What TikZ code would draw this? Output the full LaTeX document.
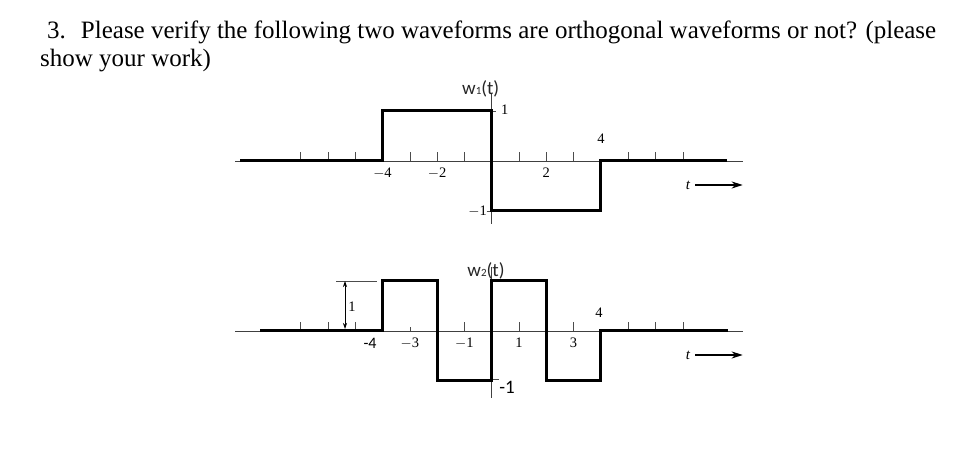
\documentclass[tikz,border=0pt]{standalone}
\usepackage{fontspec}
\setmainfont{Liberation Serif}
\newfontfamily\labelfont{Carlito}
\usetikzlibrary{arrows.meta}
\begin{document}
\begin{tikzpicture}[x=1pt, y=1pt,
	wave/.style={line width=3pt, draw=black, line join=miter},
	axis/.style={line width=0.8pt, draw=black!75},
	tick/.style={line width=0.6pt, draw=black!70},
	num/.style={font=\fontsize{14.5}{14.5}\selectfont, inner sep=0pt},
	snum/.style={font=\labelfont\fontsize{16}{16}\selectfont, inner sep=0pt},
	wlab/.style={font=\labelfont\fontsize{19}{19}\selectfont, text=black!85, inner sep=0pt},
	tarrow/.style={line width=1.3pt, -{Stealth[length=11pt, width=7pt]}}]
	\useasboundingbox (0,0) rectangle (969,462);

	\pgfmathsetmacro{\dt}{27.3}
	\pgfmathsetmacro{\h}{50}

	\coordinate[](o1) at (491.7,301);
	\coordinate[](o2) at (491.7,131);

	% Question
	\node[anchor=base west, inner sep=0pt, font=\fontsize{25}{29}\selectfont]
	(q1) at (47,423.5) {3.\hskip 15pt Please verify the following two waveforms are orthogonal waveforms or not? (please};
	\node[anchor=base west, inner sep=0pt, font=\fontsize{25}{29}\selectfont]
	(q2) at (40,395) {show your work)};

	% w1(t)
	\begin{scope}[shift={(o1)}]
	\draw[axis] (-256.7,0) -- (251.3,0);
	\draw[axis] (0,68) -- (0,-63);
	\foreach \x in {-7,-6,-5,-3,-2,-1,1,2,3,5,6,7}
	{
	\draw[tick] (\x*\dt,0) -- (\x*\dt,9);
	}
	\draw[tick] (0,\h) -- (4,\h);
	\draw[tick] (-5,-\h) -- (0,-\h);
	\draw[wave] (-251.7,0) -- (-4*\dt,0) -- (-4*\dt,\h) -- (0,\h)
	-- (0,-\h) -- (4*\dt,-\h) -- (4*\dt,0) -- (235.3,0);

	\node[num] (a1m4) at (-4*\dt,-12) {$-$4};
	\node[num] (a1m2) at (-2*\dt,-12) {$-$2};
	\node[num] (a1p2) at (2*\dt,-12) {2};
	\node[num] (a1p4) at (4*\dt,22) {4};
	\node[num] (a1hi) at (13,51) {1};
	\node[num] (a1lo) at (-14,-50) {$-$1};
	\node[wlab] (w1) at (-11,72) {w{\fontsize{11}{11}\selectfont 1}(t)};

	\node[num, font=\itshape\fontsize{15}{15}\selectfont] (t1) at (196.3,-24) {t};
	\coordinate (t1end) at (251,-24);
	\draw[tarrow] ([xshift=5pt]t1.east) -- (t1end);
	\end{scope}

	% w2(t)
	\begin{scope}[shift={(o2)}]
	\draw[axis] (-256.7,0) -- (251.3,0);
	\draw[axis] (0,64) -- (0,-67);
	\foreach \x in {-7,-6,-5,-1,1,3,5,6,7}
	{
	\draw[tick] (\x*\dt,0) -- (\x*\dt,9);
	}
	\draw[tick] (-3*\dt,0) -- (-3*\dt,4);
	\draw[tick] (0,-48) -- (7,-48);
	\draw[wave] (-231.7,0) -- (-4*\dt,0) -- (-4*\dt,\h) -- (-2*\dt,\h)
	-- (-2*\dt,-\h) -- (0,-\h) -- (0,\h) -- (2*\dt,\h) -- (2*\dt,-\h)
	-- (4*\dt,-\h) -- (4*\dt,0) -- (236.3,0);

	% Quota
	\coordinate (d1) at (-146.7,\h);
	\coordinate (d2) at (-146.7,2);
	\draw[tick] (-155.7,\h) -- (-114.7,\h);
	\draw[line width=0.7pt, {Stealth[length=6pt, width=4pt]}-{Stealth[length=6pt, width=4pt]}] (d1) -- (d2);
	\node[num] (dlab) at (-139.7,24) {1};

	\node[snum] (a2m4) at (-121.7,-12) {-4};
	\node[num] (a2m3) at (-3*\dt,-12) {$-$3};
	\node[num] (a2m1) at (-1*\dt,-12) {$-$1};
	\node[num] (a2p1) at (1*\dt,-12) {1};
	\node[num] (a2p3) at (3*\dt,-12) {3};
	\node[num] (a2p4) at (4*\dt-2,18) {4};
	\node[snum, font=\labelfont\fontsize{19}{19}\selectfont] (a2lo) at (15.3,-56) {-1};
	\node[wlab] (w2) at (-5.7,60) {w{\fontsize{11}{11}\selectfont 2}(t)};

	\node[num, font=\itshape\fontsize{15}{15}\selectfont] (t2) at (196.3,-24) {t};
	\coordinate (t2end) at (251,-24);
	\draw[tarrow] ([xshift=5pt]t2.east) -- (t2end);
	\end{scope}

\end{tikzpicture}
\end{document}
